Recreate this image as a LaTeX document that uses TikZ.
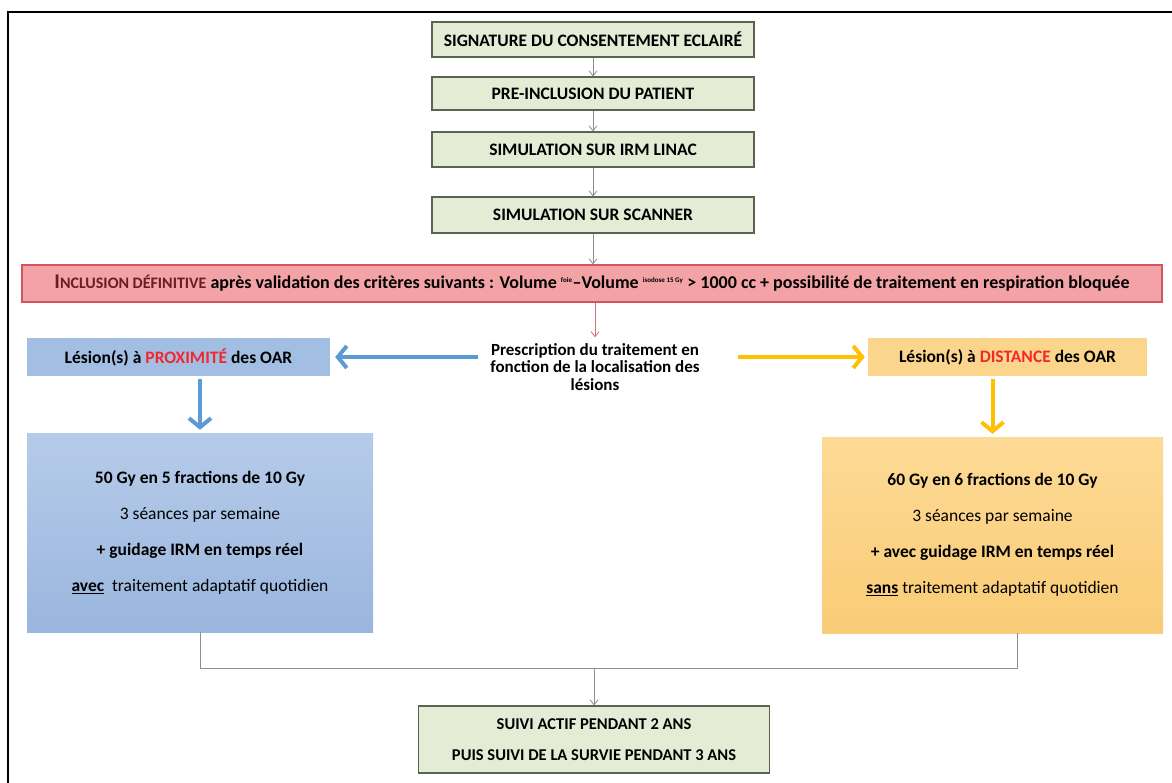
\documentclass[tikz,border=0pt]{standalone}
\usepackage{fontspec}
\setmainfont{Carlito}
\usetikzlibrary{arrows.meta}
\definecolor{gfill}{HTML}{E4ECD6}
\definecolor{gdraw}{HTML}{5A6452}
\definecolor{rfill}{HTML}{F3A2A6}
\definecolor{rdraw}{HTML}{D2555E}
\definecolor{rtext}{HTML}{6A1E22}
\definecolor{bsfill}{HTML}{A3BEE3}
\definecolor{btop}{HTML}{B6CBE9}
\definecolor{bbot}{HTML}{9AB6DE}
\definecolor{osfill}{HTML}{FCD58C}
\definecolor{otop}{HTML}{FDDA96}
\definecolor{obot}{HTML}{F9CC76}
\definecolor{barrow}{HTML}{5B9BD5}
\definecolor{oarrow}{HTML}{FFC000}
\definecolor{hred}{HTML}{EE2A30}
\definecolor{lgray}{HTML}{8E8E8E}
\definecolor{rarrow}{HTML}{D0707A}
\tikzset{
  gbox/.style={draw=gdraw, fill=gfill, line width=1.2pt, inner sep=0pt,
    font=\bfseries\fontsize{17.5}{20}\selectfont, align=center},
  garrow/.style={draw=lgray, line width=0.8pt, -{Straight Barb[length=5pt,width=8pt]}},
  gline/.style={draw=lgray, line width=0.8pt},
  barr/.style={draw=barrow, line width=4pt, -{Straight Barb[length=9pt,width=22pt]}},
  oarr/.style={draw=oarrow, line width=4pt, -{Straight Barb[length=9pt,width=22pt]}},
  smallbox/.style={inner sep=0pt, font=\bfseries\fontsize{17.5}{20}\selectfont},
  bigbox/.style={inner sep=0pt, align=center, font=\fontsize{17.5}{36}\selectfont}
}
\begin{document}
\begin{tikzpicture}[x=1pt,y=-1pt]
\useasboundingbox (0,0) rectangle (1172,783);
\fill[white] (0,0) rectangle (1172,783);
\draw[line width=2.5pt] (8,790) -- (8,12) -- (1180,12);

\node[gbox, minimum width=322pt, minimum height=35pt] (b1) at (593,39.5) {SIGNATURE DU CONSENTEMENT ECLAIR\'E};
\node[gbox, minimum width=322pt, minimum height=33pt] (b2) at (593,93.5) {PRE-INCLUSION DU PATIENT};
\node[gbox, minimum width=322pt, minimum height=35pt] (b3) at (593,149.5) {SIMULATION SUR IRM LINAC};
\node[gbox, minimum width=322pt, minimum height=36pt] (b4) at (593,215) {SIMULATION SUR SCANNER};

\node[draw=rdraw, fill=rfill, line width=1.2pt, inner sep=0pt, minimum width=1140pt, minimum height=37pt,
  font=\bfseries\fontsize{18}{20}\selectfont] (incl) at (592,283.5)
  {{\color{rtext}\fontsize{21}{20}\selectfont I\fontsize{16}{20}\selectfont NCLUSION D\'EFINITIVE} apr\`es validation des crit\`eres suivants : Volume \textsuperscript{\fontsize{7}{7}\selectfont foie}--Volume \textsuperscript{\fontsize{7}{7}\selectfont isodose 15 Gy} > 1000 cc + possibilit\'e de traitement en respiration bloqu\'ee};

\node[inner sep=0pt, align=center, font=\bfseries\fontsize{17}{17.5}\selectfont] (presc) at (595,367)
  {Prescription du traitement en\\fonction de la localisation des\\l\'esions};

\node[smallbox, fill=bsfill, minimum width=303pt, minimum height=37pt] (bs) at (178.5,357)
  {L\'esion(s) \`a {\color{hred}PROXIMIT\'E} des OAR};
\node[smallbox, fill=osfill, minimum width=279pt, minimum height=37pt] (os) at (1007.5,357)
  {L\'esion(s) \`a {\color{hred}DISTANCE} des OAR};

\node[bigbox, top color=btop, bottom color=bbot, minimum width=346pt, minimum height=199pt] (bb) at (200,532.5)
  {\textbf{50 Gy en 5 fractions de 10 Gy}\\3 s\'eances par semaine\\\textbf{+ guidage IRM en temps r\'eel}\\\textbf{\underline{avec}}\ \ traitement adaptatif quotidien};
\node[bigbox, top color=otop, bottom color=obot, minimum width=341pt, minimum height=196pt] (ob) at (992.5,535)
  {\textbf{60 Gy en 6 fractions de 10 Gy}\\3 s\'eances par semaine\\\textbf{+ avec guidage IRM en temps r\'eel}\\\textbf{\underline{sans}} traitement adaptatif quotidien};

\node[gbox, minimum width=351pt, minimum height=67pt, font=\bfseries\fontsize{16.5}{31}\selectfont] (fin) at (594,739.5)
  {SUIVI ACTIF PENDANT 2 ANS\\PUIS SUIVI DE LA SURVIE PENDANT 3 ANS};

% connectors
\draw[garrow] (b1) -- (b2);
\draw[garrow] (b2) -- (b3);
\draw[garrow] (b3) -- (b4);
\draw[garrow] (b4.south) -- (b4.south |- incl.north);
\draw[draw=rarrow, line width=0.8pt, -{Straight Barb[length=5pt,width=8pt]}] (incl.south -| presc.north) -- ([yshift=6pt]presc.north);

\draw[barr] ([xshift=-12pt]presc.west |- bs.east) -- ([xshift=5pt]bs.east);
\draw[oarr] ([xshift=38pt]presc.east |- os.west) -- ([xshift=-3pt]os.west);
\draw[barr] ([yshift=-3pt]bb.north |- bs.south) -- ([yshift=3pt]bb.north);
\draw[oarr] ([yshift=-3pt]ob.north |- os.south) -- ([yshift=3pt]ob.north);

\draw[gline] (bb.south) |- ([xshift=25pt,yshift=-35pt]ob.south) coordinate (hr) -- ([xshift=25pt]ob.south);
\draw[garrow] (fin.north |- hr) -- (fin.north);
\end{tikzpicture}
\end{document}
